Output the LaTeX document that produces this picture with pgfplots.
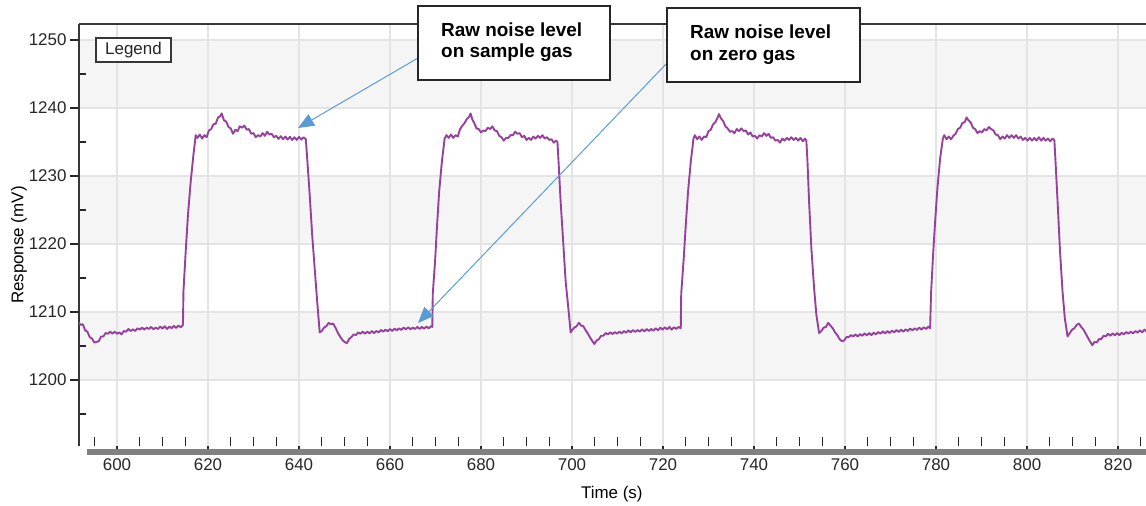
\documentclass[border=0pt]{standalone}
\usepackage{pgfplots}
\pgfplotsset{compat=1.18}
\usepackage{pgfplotstable}
\usepackage{fontspec}
\setmainfont{Liberation Sans}
\usetikzlibrary{arrows.meta}
\definecolor{trace}{RGB}{150,66,156}
\definecolor{band}{RGB}{245,245,245}
\definecolor{gridc}{RGB}{228,228,228}
\definecolor{axisc}{RGB}{55,55,55}
\definecolor{barc}{RGB}{128,128,128}
\definecolor{arrowc}{RGB}{91,155,213}

\pgfplotstableread{
t v
591.5 1208.5
592.0 1208.1
592.5 1208.2
593.0 1207.3
593.5 1207.1
594.0 1206.3
594.5 1206.1
595.0 1205.5
595.5 1205.6
596.0 1205.7
596.5 1206.4
597.0 1206.4
597.5 1206.9
598.0 1206.8
598.5 1207.1
599.0 1206.8
599.5 1207.1
600.0 1206.8
600.5 1207.0
601.0 1206.7
601.5 1207.2
602.0 1207.1
602.5 1207.5
603.0 1207.2
603.5 1207.45
604.0 1207.2
604.5 1207.6
605.0 1207.4
605.5 1207.7
606.0 1207.4
606.5 1207.7
607.0 1207.5
607.5 1207.8
608.0 1207.45
608.5 1207.7
609.0 1207.5
609.5 1207.85
610.0 1207.55
610.5 1207.9
611.0 1207.5
611.5 1207.85
612.0 1207.6
612.5 1207.95
613.0 1207.65
613.5 1208.0
614.0 1207.75
614.5 1208.1
614.6 1213.0
615.1 1218.9
615.6 1224.3
616.2 1229.2
616.8 1233.1
617.3 1236.0
617.7 1235.6
618.2 1236.1
618.7 1235.5
619.2 1236.0
619.7 1235.7
620.2 1236.7
620.7 1236.9
621.2 1237.6
621.7 1237.7
622.2 1238.6
622.7 1238.8
623.0 1239.2
623.5 1238.2
624.0 1238.0
624.5 1237.2
625.0 1237.0
625.5 1236.2
626.0 1236.8
626.5 1236.6
627.0 1237.3
627.5 1237.1
628.0 1237.4
628.5 1236.8
629.0 1236.9
629.5 1236.2
630.0 1236.3
630.5 1235.7
631.0 1236.0
631.5 1235.8
632.0 1236.3
632.5 1235.9
633.0 1236.5
633.5 1236.1
634.0 1236.2
634.5 1235.7
635.0 1235.9
635.5 1235.45
636.0 1235.85
636.5 1235.4
637.0 1235.8
637.5 1235.35
638.0 1235.75
638.5 1235.3
639.0 1235.7
639.5 1235.3
640.0 1235.75
640.5 1235.35
641.0 1235.7
641.5 1235.4
641.85 1232.1
642.35 1227.2
642.9 1221.3
643.5 1215.9
644.0 1211.5
644.55 1207.0
645.0 1207.2
645.5 1207.7
646.0 1207.9
646.5 1208.4
647.0 1208.2
647.5 1208.3
648.0 1207.7
648.5 1207.0
649.0 1206.4
649.5 1205.9
650.0 1205.6
650.5 1205.4
651.0 1206.0
651.5 1206.3
652.0 1206.7
652.5 1206.6
653.0 1207.0
653.5 1206.8
654.0 1207.1
654.5 1206.8
655.0 1207.1
655.5 1206.85
656.0 1207.2
656.5 1206.9
657.0 1207.2
657.5 1207.0
658.0 1207.35
658.5 1207.1
659.0 1207.4
659.5 1207.15
660.0 1207.5
660.5 1207.2
661.0 1207.55
661.5 1207.3
662.0 1207.6
662.5 1207.35
663.0 1207.7
663.5 1207.45
664.0 1207.75
664.5 1207.45
665.0 1207.7
665.5 1207.5
666.0 1207.8
666.5 1207.5
667.0 1207.8
667.5 1207.55
668.0 1207.85
668.5 1207.6
669.0 1207.9
669.3 1207.8
669.4 1212.7
669.9 1217.4
670.3 1222.3
670.8 1227.7
671.4 1232.1
672.0 1235.5
672.4 1236.0
672.9 1235.6
673.4 1236.1
673.9 1235.6
674.4 1236.0
674.9 1235.8
675.4 1236.9
675.9 1237.4
676.4 1237.8
676.9 1238.4
677.4 1238.7
677.7 1239.2
678.1 1238.3
678.5 1237.8
679.0 1237.0
679.5 1236.9
680.0 1236.4
680.5 1236.7
681.0 1236.6
681.5 1237.1
682.0 1236.9
682.5 1237.3
683.0 1236.7
683.5 1236.6
684.0 1235.9
684.5 1235.7
685.0 1235.2
685.5 1235.6
686.0 1235.6
686.5 1236.0
687.0 1236.0
687.5 1236.5
688.0 1236.2
688.5 1236.3
689.0 1235.7
689.5 1235.9
690.0 1235.3
690.5 1235.6
691.0 1235.3
691.5 1235.8
692.0 1235.5
692.5 1235.9
693.0 1235.6
693.5 1236.0
694.0 1235.5
694.5 1235.7
695.0 1235.3
695.5 1235.4
696.0 1234.9
696.5 1235.2
696.8 1235.0
697.0 1232.6
697.5 1226.2
698.1 1219.9
698.6 1214.5
699.2 1210.5
699.7 1207.0
700.0 1207.3
700.5 1207.7
701.0 1207.9
701.5 1208.4
702.0 1208.0
702.5 1207.9
703.0 1207.3
703.5 1206.8
704.0 1206.2
704.5 1205.7
704.9 1205.3
705.4 1205.8
705.9 1206.0
706.4 1206.5
706.9 1206.5
707.4 1206.9
707.9 1206.7
708.4 1207.0
708.9 1206.75
709.4 1207.05
709.9 1206.8
710.4 1207.1
710.9 1206.85
711.4 1207.2
711.9 1206.95
712.4 1207.3
712.9 1207.0
713.4 1207.35
713.9 1207.05
714.4 1207.35
714.9 1207.1
715.4 1207.45
715.9 1207.15
716.4 1207.5
716.9 1207.2
717.4 1207.5
717.9 1207.25
718.4 1207.6
718.9 1207.3
719.4 1207.7
719.9 1207.4
720.4 1207.75
720.9 1207.45
721.4 1207.8
721.9 1207.4
722.4 1207.75
722.9 1207.5
723.4 1207.8
723.9 1207.6
724.0 1212.7
724.55 1217.9
725.0 1222.8
725.5 1227.7
726.1 1232.1
726.7 1235.5
727.0 1236.0
727.5 1235.4
728.0 1235.8
728.5 1235.3
729.0 1235.8
729.5 1235.7
730.0 1236.6
730.5 1236.8
731.0 1237.6
731.5 1237.9
732.0 1238.6
732.3 1239.1
732.7 1238.5
733.2 1238.1
733.7 1237.3
734.2 1237.0
734.7 1236.5
735.2 1236.6
735.7 1236.3
736.2 1236.9
736.7 1236.6
737.2 1237.0
737.7 1236.6
738.2 1236.7
738.7 1236.1
739.2 1236.4
739.7 1235.8
740.2 1235.9
740.7 1235.5
741.2 1236.0
741.7 1235.8
742.2 1236.3
742.7 1235.9
743.2 1236.2
743.7 1235.6
744.2 1235.7
744.7 1235.2
745.2 1235.3
745.7 1234.9
746.2 1235.5
746.7 1235.2
747.2 1235.6
747.7 1235.3
748.2 1235.7
748.7 1235.3
749.2 1235.6
749.7 1235.2
750.2 1235.6
750.7 1235.1
751.2 1235.5
751.5 1235.2
751.75 1232.1
752.1 1226.2
752.6 1219.4
753.2 1213.5
753.7 1209.6
754.3 1206.9
754.8 1207.2
755.3 1207.7
755.8 1207.8
756.3 1208.4
756.8 1208.0
757.3 1207.6
757.8 1207.0
758.3 1206.6
758.8 1206.0
759.3 1205.7
759.8 1205.8
760.3 1206.3
760.8 1206.3
761.3 1206.6
761.8 1206.4
762.3 1206.7
762.8 1206.4
763.3 1206.75
763.8 1206.5
764.3 1206.85
764.8 1206.55
765.3 1206.9
765.8 1206.6
766.3 1206.95
766.8 1206.7
767.3 1207.05
767.8 1206.8
768.3 1207.15
768.8 1206.85
769.3 1207.2
769.8 1206.9
770.3 1207.25
770.8 1207.0
771.3 1207.35
771.8 1207.05
772.3 1207.4
772.8 1207.1
773.3 1207.45
773.8 1207.2
774.3 1207.55
774.8 1207.3
775.3 1207.6
775.8 1207.35
776.3 1207.7
776.8 1207.4
777.3 1207.75
777.8 1207.5
778.3 1207.85
778.7 1207.6
778.9 1212.7
779.35 1218.4
779.8 1223.3
780.3 1228.2
780.9 1232.6
781.5 1235.5
781.8 1236.0
782.3 1235.4
782.8 1235.8
783.3 1235.4
783.8 1235.9
784.3 1236.2
784.8 1236.9
785.3 1237.1
785.8 1237.8
786.3 1237.9
786.7 1238.6
787.1 1238.2
787.6 1237.9
788.1 1237.1
788.6 1236.9
789.1 1236.3
789.6 1236.6
790.1 1236.4
790.6 1236.9
791.1 1236.7
791.6 1237.2
792.1 1236.9
792.6 1236.7
793.1 1236.1
793.6 1236.0
794.1 1235.4
794.6 1235.8
795.1 1235.5
795.6 1236.0
796.1 1235.6
796.6 1236.0
797.1 1235.6
797.6 1236.0
798.1 1235.5
798.6 1235.8
799.1 1235.3
799.6 1235.6
800.1 1235.2
800.6 1235.6
801.1 1235.2
801.6 1235.6
802.1 1235.2
802.6 1235.7
803.1 1235.2
803.6 1235.6
804.1 1235.2
804.6 1235.5
805.1 1235.1
805.6 1235.5
806.0 1235.3
806.3 1231.6
806.75 1225.7
807.25 1218.9
807.8 1213.0
808.3 1209.1
808.9 1206.4
809.4 1206.9
809.9 1207.4
810.4 1207.6
810.9 1208.1
811.4 1208.3
811.9 1207.8
812.4 1207.4
812.9 1206.8
813.4 1206.2
813.9 1205.6
814.35 1205.1
814.8 1205.6
815.3 1205.5
815.8 1206.0
816.3 1206.0
816.8 1206.5
817.3 1206.4
817.8 1206.8
818.3 1206.5
818.8 1206.85
819.3 1206.55
819.8 1206.9
820.3 1206.6
820.8 1206.95
821.3 1206.7
821.8 1207.05
822.3 1206.8
822.8 1207.1
823.3 1206.85
823.8 1207.2
824.3 1206.95
824.8 1207.3
825.3 1207.0
825.8 1207.4
826.3 1207.1
826.8 1207.4
}\signal

\begin{document}
\begin{tikzpicture}
% scroll bar under the time axis
\fill[barc] (87bp,51bp) rectangle (1150bp,57bp);
\begin{axis}[
  set layers,
  at={(79bp,60bp)}, anchor=south west,
  scale only axis, width=1070bp, height=422bp,
  xmin=591.65, xmax=826.81, ymin=1190.29, ymax=1252.35,
  axis x line*=bottom, axis y line*=left,
  x axis line style={draw=none},
  y axis line style={line width=1.7bp, color=axisc},
  xtick={600,620,...,820}, ytick={1200,1210,...,1250},
  xtick align=outside, ytick align=outside,
  major tick length=9bp,
  tick style={line width=1.3bp, color=black!85},
  extra x ticks={595,605,610,615,625,630,635,645,650,655,665,670,675,685,690,695,705,710,715,725,730,735,745,750,755,765,770,775,785,790,795,805,810,815,825},
  extra x tick labels={},
  extra x tick style={grid=none, xtick align=inside, major tick length=9bp},
  extra y ticks={1195,1205,1215,1225,1235,1245},
  extra y tick labels={},
  extra y tick style={grid=none, ytick align=inside, major tick length=7bp},
  grid=major,
  major grid style={draw=gridc, line width=1.3bp},
  /pgf/number format/assume math mode=true,
  /pgf/number format/1000 sep={},
  tick label style={font=\fontsize{17}{20}\selectfont, text=black!85},
  xlabel={Time (s)}, ylabel={Response (mV)},
  every axis x label/.style={at={(axis description cs:0.498,-0.1137)}, anchor=center, font=\fontsize{17}{20}\selectfont},
  every axis y label/.style={at={(axis description cs:-0.0561,0.476)}, rotate=90, anchor=center, font=\fontsize{17}{20}\selectfont},
]
\begin{pgfonlayer}{axis background}
\fill[band] (axis cs:591.65,1240) rectangle (axis cs:826.81,1250);
\fill[band] (axis cs:591.65,1220) rectangle (axis cs:826.81,1230);
\fill[band] (axis cs:591.65,1200) rectangle (axis cs:826.81,1210);
\end{pgfonlayer}
\addplot[trace, line width=1.9bp, line join=round] table[x=t, y=v] {\signal};
\end{axis}
% top frame line
\draw[axisc, line width=1.6bp] (79bp,482bp) -- (1150bp,482bp);
% legend box
\draw[axisc, line width=1.5bp, fill=white] (96bp,444bp) rectangle (171bp,468bp);
\node[font=\fontsize{17}{20}\selectfont, text=black!85] at (133.5bp,456bp) {Legend};
% annotation arrows
\draw[arrowc, line width=1bp, -{Triangle[length=16bp,width=13bp]}] (418bp,448bp) -- (298bp,378bp);
\draw[arrowc, line width=1bp, -{Triangle[length=16bp,width=13bp]}] (668bp,444bp) -- (418bp,183bp);
% annotation boxes
\draw[black!85, line width=1.5bp, fill=white] (418bp,426bp) rectangle (610bp,500bp);
\node[anchor=base west, font=\fontsize{19}{22}\bfseries, inner sep=0pt] at (441bp,469bp) {Raw noise level};
\node[anchor=base west, font=\fontsize{19}{22}\bfseries, inner sep=0pt] at (441bp,448bp) {on sample gas};
\draw[black!85, line width=1.5bp, fill=white] (667bp,424bp) rectangle (860bp,498bp);
\node[anchor=base west, font=\fontsize{19}{22}\bfseries, inner sep=0pt] at (690bp,467.5bp) {Raw noise level};
\node[anchor=base west, font=\fontsize{19}{22}\bfseries, inner sep=0pt] at (690bp,445.5bp) {on zero gas};
\pgfresetboundingbox
\path[use as bounding box] (0,0) rectangle (1146bp,506bp);
\end{tikzpicture}
\end{document}
